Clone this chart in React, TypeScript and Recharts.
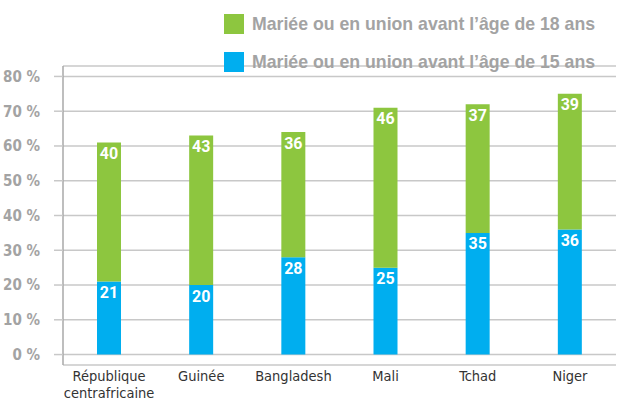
import React from 'react';
import { BarChart, Bar, XAxis, YAxis, CartesianGrid, Legend, LabelList } from 'recharts';

// country names (line break where the label wraps)
const countries = ['République\ncentrafricaine', 'Guinée', 'Bangladesh', 'Mali', 'Tchad', 'Niger'];
// married before 15 (blue, bottom segment)
const before15 = [21, 20, 28, 25, 35, 36];
// segment shown on top (green), labelled values
const before18 = [40, 43, 36, 46, 37, 39];
const yTicks = [0, 10, 20, 30, 40, 50, 60, 70, 80];

const GREEN = '#8dc63f';
const BLUE = '#00aeef';
const GREY = '#a3a3a3';
const COND = "'Liberation Sans Narrow', 'DejaVu Sans Condensed', 'Arial Narrow', sans-serif";

const data = countries.map((name, i) => ({ name, b15: before15[i], b18: before18[i] }));

const legendItems = [
  { label: 'Mariée ou en union avant l’âge de 18 ans', color: GREEN },
  { label: 'Mariée ou en union avant l’âge de 15 ans', color: BLUE },
];

function LegendBox() {
  return (
    <div style={{ fontFamily: "'Liberation Sans', Arial, sans-serif" }}>
      {legendItems.map((it, i) => (
        <div key={i} style={{ display: 'flex', alignItems: 'center', height: 20, marginBottom: i === 0 ? 18 : 0 }}>
          <div style={{ width: 20, height: 20, background: it.color, marginRight: 8 }} />
          <span style={{ fontSize: 17.7, fontWeight: 700, color: GREY, whiteSpace: 'nowrap' }}>{it.label}</span>
        </div>
      ))}
    </div>
  );
}

function CountryTick(props: any) {
  const { x, y, payload } = props;
  const lines = String(payload.value).split('\n');
  return (
    <text x={x} y={y} textAnchor="middle" fill="#333" fontSize={14.5} fontFamily={COND}>
      {lines.map((l, i) => (
        <tspan key={i} x={x} dy={i === 0 ? 8 : 17}>{l}</tspan>
      ))}
    </text>
  );
}

function SegLabel(props: any) {
  const { x, y, width, value } = props;
  return (
    <text x={x + width / 2} y={y + 11} textAnchor="middle" dominantBaseline="central" fill="#fff"
      fontSize={16} fontWeight={700} fontFamily="Roboto, 'Liberation Sans', sans-serif">
      {value}
    </text>
  );
}

export default function App() {
  return (
    <div style={{ position: 'absolute', top: 0, left: 0, width: 619, height: 402, background: '#fff' }}>
      <BarChart width={619} height={402} data={data} margin={{ top: 66, right: 3, left: 0, bottom: 0 }} barSize={24}>
        <CartesianGrid vertical={false} stroke="#c8c8c8" strokeWidth={1.5} />
        <XAxis dataKey="name" axisLine={false} tickLine={false} height={37} interval={0} tick={<CountryTick />} />
        <YAxis
          domain={[-3, 83]}
          ticks={yTicks}
          width={63}
          axisLine={{ stroke: '#a8a8a8', strokeWidth: 1.5 }}
          tickLine={{ stroke: '#c8c8c8', strokeWidth: 1.5 }}
          tickSize={9}
          tickMargin={14}
          tickFormatter={(v: number) => `${v} %`}
          tick={{ fill: GREY, fontSize: 15, fontWeight: 700, fontFamily: COND }}
        />
        <Legend
          layout="vertical"
          align="center"
          verticalAlign="middle"
          wrapperStyle={{ top: 14, left: 224, width: 'auto' }}
          content={() => <LegendBox />}
        />
        <Bar dataKey="b15" stackId="a" fill={BLUE} isAnimationActive={false}>
          <LabelList dataKey="b15" content={<SegLabel />} />
        </Bar>
        <Bar dataKey="b18" stackId="a" fill={GREEN} isAnimationActive={false}>
          <LabelList dataKey="b18" content={<SegLabel />} />
        </Bar>
      </BarChart>
    </div>
  );
}
